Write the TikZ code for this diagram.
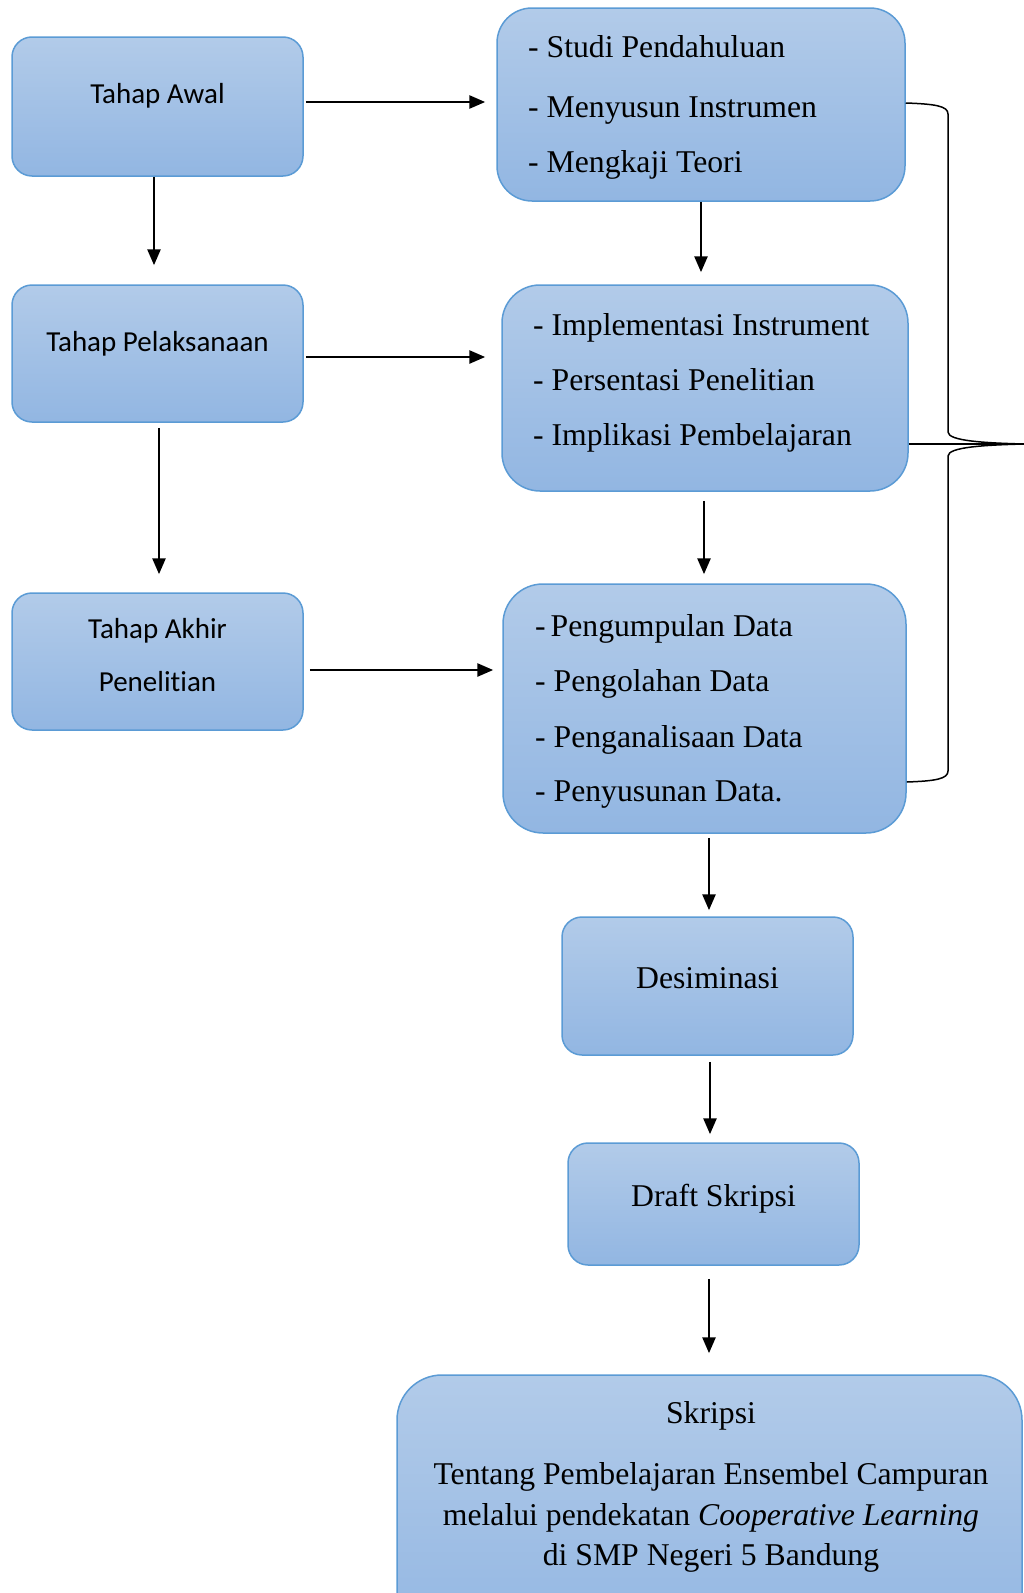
\documentclass[tikz,border=0pt]{standalone}
\usepackage{fontspec}
\setmainfont{Liberation Serif}
\newfontfamily\calib[Ligatures=NoCommon]{Carlito}
\usetikzlibrary{arrows.meta}
\definecolor{topc}{RGB}{178,203,233}
\definecolor{botc}{RGB}{146,182,226}
\definecolor{bordc}{RGB}{91,155,213}
\begin{document}
\begin{tikzpicture}[x=1pt,y=-1pt,
  box/.style={draw=bordc,line width=1.5pt,top color=topc,bottom color=botc,rounded corners=#1,inner sep=0pt},
  box/.default=20pt,
  arr/.style={line width=2.7pt,-{Triangle[length=16pt,width=13pt]}},
  serif/.style={font=\fontsize{31.7}{40.6}\selectfont,inner sep=0pt,anchor=base west},
  serifc/.style={font=\fontsize{31.7}{40.6}\selectfont,inner sep=0pt,anchor=base},
  sans/.style={font=\calib\fontsize{29}{36}\selectfont,inner sep=0pt,anchor=base},
  brace/.style={line width=1.5pt}]
\useasboundingbox (0,0) rectangle (1024,1593);
% left column
\node[box,minimum width=291pt,minimum height=139pt] (A1) at (157.5,106.5) {};
\node[box,minimum width=291pt,minimum height=137pt] (A2) at (157.5,353.5) {};
\node[box,minimum width=291pt,minimum height=137pt] (A3) at (157.5,661.5) {};
\node[sans] (tA1) at (157.5,103) {Tahap Awal};
\node[sans] (tA2) at (157.5,351) {Tahap Pelaksanaan};
\node[sans] (tA3a) at (157.5,638) {Tahap Akhir};
\node[sans] (tA3b) at (157.5,691) {Penelitian};
% right column
\node[box=35pt,minimum width=408pt,minimum height=193pt] (B1) at (701,104.5) {};
\node[box=38pt,minimum width=406pt,minimum height=206pt] (B2) at (705,388) {};
\node[box=40pt,minimum width=403pt,minimum height=249pt] (B3) at (704.5,708.5) {};
\node[serif] (tB1a) at (528,57) {- Studi Pendahuluan};
\node[serif] (tB1b) at (528,117) {- Menyusun Instrumen};
\node[serif] (tB1c) at (528,172) {- Mengkaji Teori};
\node[serif] (tB2a) at (533,335) {- Implementasi Instrument};
\node[serif] (tB2b) at (533,390) {- Persentasi Penelitian};
\node[serif] (tB2c) at (533,445) {- Implikasi Pembelajaran};
\node[serif] (tB3a) at (535,636) {-\hspace{5pt}Pengumpulan Data};
\node[serif] (tB3b) at (535,691) {- Pengolahan Data};
\node[serif] (tB3c) at (535,747) {- Penganalisaan Data};
\node[serif] (tB3d) at (535,801) {- Penyusunan Data.};
% lower column
\node[box,minimum width=291pt,minimum height=138pt] (C1) at (707.5,986) {};
\node[box,minimum width=291pt,minimum height=122pt] (C2) at (713.5,1204) {};
\node[box=45pt,minimum width=625pt,minimum height=275pt] (C3) at (709.5,1512.5) {};
\node[serifc] (tC1) at (707.5,988) {Desiminasi};
\node[serifc] (tC2) at (713.5,1206) {Draft Skripsi};
\node[serifc] (tC3a) at (711,1423) {Skripsi};
\node[serifc] (tC3b) at (711,1484) {Tentang Pembelajaran Ensembel Campuran};
\node[serifc] (tC3c) at (711,1525) {melalui pendekatan \textit{Cooperative Learning}};
\node[serifc] (tC3d) at (711,1565) {di SMP Negeri 5 Bandung};
% arrows
\draw[arr,shorten <=2pt,shorten >=11pt] ([yshift=4.5pt]A1.east) -- ([yshift=2.5pt]B1.west);
\draw[arr,shorten >=19pt] ([xshift=-3.5pt]A1.south) -- ([xshift=-3.5pt]A2.north);
\draw[arr,shorten <=5pt,shorten >=18pt] ([xshift=1.5pt]A2.south) -- ([xshift=1.5pt]A3.north);
\draw[arr,shorten <=2pt,shorten >=16pt] ([yshift=-3.5pt]A2.east) -- ([yshift=31pt]B2.west);
\draw[arr,shorten <=6pt,shorten >=9pt] ([yshift=-8.5pt]A3.east) -- ([yshift=38.5pt]B3.west);
\draw[arr,shorten >=12pt] (B1.south) -- ([xshift=-4pt]B2.north);
\draw[arr,shorten <=9pt,shorten >=9pt] ([xshift=-1pt]B2.south) -- ([xshift=-0.5pt]B3.north);
\draw[arr,shorten <=4pt,shorten >=6pt] ([xshift=4.5pt]B3.south) -- ([xshift=1.5pt]C1.north);
\draw[arr,shorten <=6pt,shorten >=8pt] ([xshift=2.5pt]C1.south) -- ([xshift=-3.5pt]C2.north);
\draw[arr,shorten <=13pt,shorten >=21pt] ([xshift=-4.5pt]C2.south) -- ([xshift=-0.5pt]C3.north);
% brace
\coordinate (tip) at (1024,444);
\draw[brace] ([yshift=1.5pt]B1.east) .. controls (935,104) and (948,106) .. (948,114)
  -- (948,432) .. controls (948,441) and (985,443) .. (tip)
  .. controls (985,445) and (948,447) .. (948,456)
  -- (948,771) .. controls (948,779) and (935,781) .. ([yshift=-73.5pt]B3.east);
\draw[brace] ([yshift=-56pt]B2.east) -- (tip);
\end{tikzpicture}
\end{document}
